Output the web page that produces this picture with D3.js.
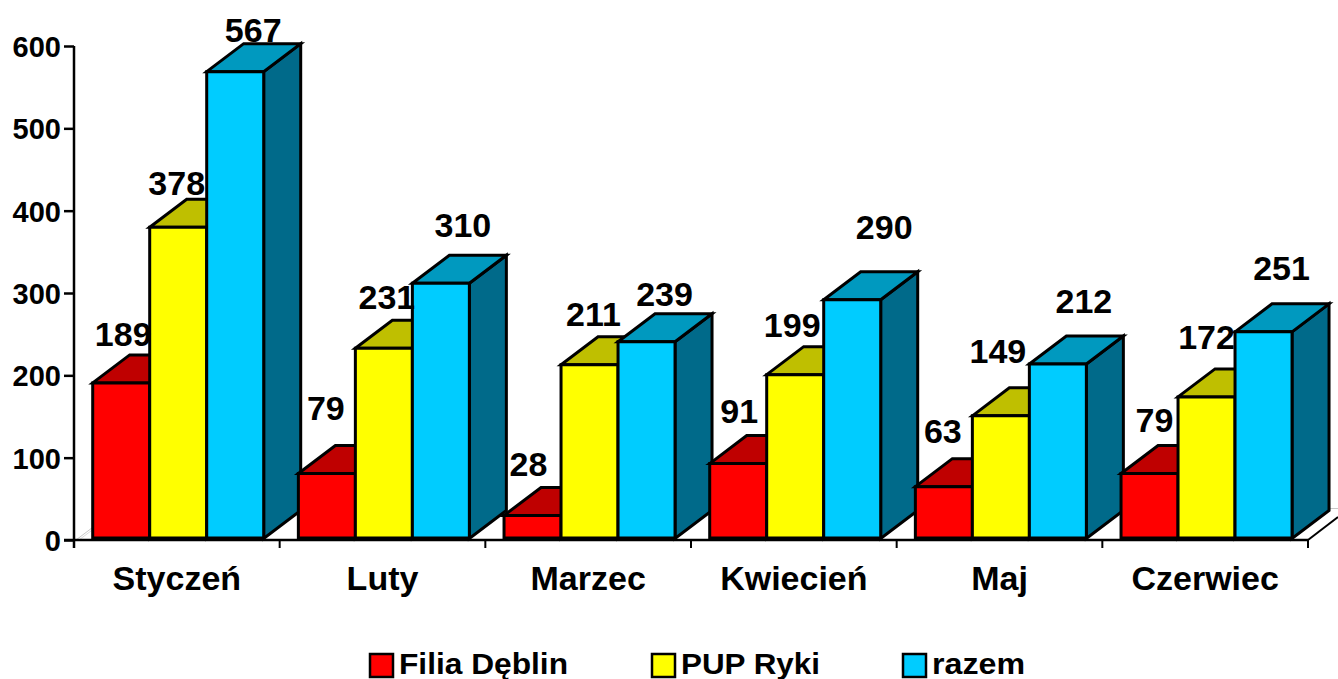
<!DOCTYPE html>
<html><head><meta charset="utf-8">
<script src="https://cdn.jsdelivr.net/npm/d3@7"></script>
<style>html,body{margin:0;padding:0;background:#fff}svg{display:block}text{font-family:"Liberation Sans",Arial,sans-serif;font-weight:700;fill:#000}</style>
</head><body><svg id="c" width="1338" height="679"></svg>
<script>
const categories = ["Styczeń","Luty","Marzec","Kwiecień","Maj","Czerwiec"];
const seriesNames = ["Filia Dęblin","PUP Ryki","razem"];
const filiaDeblin = [189,79,28,91,63,79];
const pupRyki = [378,231,211,199,149,172];
const razem = [567,310,239,290,212,251];
const yTicks = [0,100,200,300,400,500,600];

// layout and style, separate from the data
const frontColors = ["#ff0000","#ffff00","#00ccff"];
const topColors = ["#bf0000","#bfbf00","#0099bf"];
const sideColor = ["#990000","#999900","#006a8a"];
const labelNudge = [
  [[2,-36.5],[-1.5,-32.5],[18,-29.5]],
  [[-1,-53.5],[3,-39.5],[22,-46.5]],
  [[-4,-39.5],[4,-38.5],[18,-35.5]],
  [[1,-40.5],[-3,-37.5],[32,-60.5]],
  [[-1,-43.5],[-3,-52.5],[26,-50.5]],
  [[5,-41.5],[0,-47.5],[18,-51.5]]
];
const depthX = 37, depthY = 28;

const svg = d3.select("#c");
const x0 = d3.scaleBand().domain(categories).range([74,1308]);
const x1 = d3.scaleBand().domain(seriesNames).range([18.7,189.7]);
const yAxisScale = d3.scaleLinear().domain([0,600]).range([540,46]);
const yBar = d3.scaleLinear().domain([0,600]).range([538.5,44.5]);
const values = [filiaDeblin,pupRyki,razem];

// floor
svg.append("path").attr("d",`M76,540 L${76+depthX},${540-depthY}`).attr("stroke","#c8c8c8").attr("fill","none");
svg.append("path").attr("d",`M79,540 L${79+depthX},${540-depthY}`).attr("stroke","#dcdcdc").attr("fill","none");
svg.append("path").attr("d",`M1308,540 L1338,517`).attr("stroke","#000").attr("stroke-width",2).attr("fill","none");
svg.append("path").attr("d",`M1330,508.5 L1338,508.5`).attr("stroke","#c8c8c8").attr("fill","none");

// axes
const gy = svg.append("g").attr("transform","translate(74,0)")
  .call(d3.axisLeft(yAxisScale).tickValues(yTicks).tickSize(10).tickPadding(3).tickSizeOuter(0));
gy.selectAll("text").style("font-size","29px").attr("dy","0.36em");
gy.selectAll("line,path").attr("stroke","#000").attr("stroke-width",2.5);
gy.select("path").attr("d","M0,46 L0,548");

const tickEdges = d3.range(categories.length+1).map(i=>74+i*x0.step());
const gx = svg.append("g").attr("transform","translate(0,540)");
gx.append("path").attr("d",`M64,0 L${tickEdges[6]},0`).attr("stroke","#000").attr("stroke-width",2.5);
gx.selectAll("line").data(tickEdges).join("line")
  .attr("x1",d=>d).attr("x2",d=>d).attr("y1",0).attr("y2",8).attr("stroke","#000").attr("stroke-width",2);
gx.selectAll("text").data(categories).join("text")
  .attr("x",d=>x0(d)+x0.step()/2).attr("y",50).attr("text-anchor","middle").style("font-size","34px").text(d=>d);

// bars
const stroke = {stroke:"#000","stroke-width":3,"stroke-linejoin":"miter"};
function poly(g,pts,fill){
  const p = g.append("polygon").attr("points",pts.map(a=>a.join(",")).join(" ")).attr("fill",fill);
  for(const k in stroke) p.attr(k,stroke[k]);
}
categories.forEach((c,ci)=>{
  const g = svg.append("g");
  seriesNames.forEach((s,si)=>{
    const l = x0(c)+x1(s), w = x1.bandwidth(), r = l+w, t = yBar(values[si][ci]), b = yBar(0);
    poly(g,[[r,t],[r+depthX,t-depthY],[r+depthX,b-depthY],[r,b]],sideColor[si]);
    poly(g,[[l,t],[l+depthX,t-depthY],[r+depthX,t-depthY],[r,t]],topColors[si]);
    poly(g,[[l,t],[r,t],[r,b],[l,b]],frontColors[si]);
  });
  g.append("line").attr("x1",x0(c)+x1(seriesNames[0])).attr("x2",x0(c)+x1(seriesNames[2])+x1.bandwidth())
    .attr("y1",yBar(0)).attr("y2",yBar(0)).attr("stroke","#000").attr("stroke-width",4);
});

// data labels
categories.forEach((c,ci)=>{
  seriesNames.forEach((s,si)=>{
    const cx = x0(c)+x1(s)+x1.bandwidth()/2, t = yBar(values[si][ci]);
    svg.append("text").attr("x",cx+labelNudge[ci][si][0]).attr("y",t+labelNudge[ci][si][1])
      .attr("text-anchor","middle").style("font-size","34px").text(values[si][ci]);
  });
});

// legend
const legendX = d3.scaleOrdinal().domain(seriesNames).range([370,652,903]);
seriesNames.forEach((s,i)=>{
  const lx = legendX(s);
  svg.append("rect").attr("x",lx).attr("y",654).attr("width",23).attr("height",23)
    .attr("fill",frontColors[i]).attr("stroke","#000").attr("stroke-width",2.5);
  svg.append("text").attr("x",lx+29).attr("y",674).style("font-size","29px")
    .attr("textLength",[169,139,93][i]).attr("lengthAdjust","spacingAndGlyphs").text(s);
});
</script></body></html>
